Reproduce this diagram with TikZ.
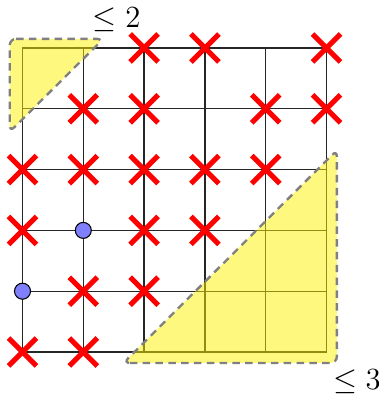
\documentclass[tikz,border=0pt]{standalone}
\begin{document}
\begin{tikzpicture}[x=1cm,y=1cm,
  gridline/.style={line width=0.6pt,black!85},
  region/.style={fill=yellow,fill opacity=0.5,draw=black!50,draw opacity=1,line width=1.1pt,dash pattern=on 3.5pt off 2.5pt,rounded corners=3pt},
  crossmark/.style={red,line width=2.4pt},
  dotmark/.style={circle,draw=black,line width=0.5pt,fill=blue!50,inner sep=0pt,minimum size=7.5pt},
  lbl/.style={font=\Large}]
\useasboundingbox (-0.37,-0.773) rectangle (5.847,5.789);
% grid
\foreach \i in {0,...,5} {
  \draw[gridline] (\i,0) -- (\i,5);
  \draw[gridline] (0,\i) -- (5,\i);
}
% regions
\draw[region] (-0.21,5.15) -- (1.33,5.15) -- (-0.21,3.62) -- cycle;
\draw[region] (1.66,-0.18) -- (5.17,-0.18) -- (5.17,3.32) -- cycle;
% crosses
\foreach \x/\y in {2/5,3/5,5/5, 1/4,2/4,4/4,5/4, 0/3,1/3,2/3,3/3,4/3, 0/2,2/2,3/2, 1/1,2/1, 0/0,1/0} {
  \draw[crossmark] (\x-0.23,\y-0.23) -- (\x+0.23,\y+0.23);
  \draw[crossmark] (\x-0.23,\y+0.23) -- (\x+0.23,\y-0.23);
}
% dots
\node[dotmark] (d1) at (1,2) {};
\node[dotmark] (d2) at (0,1) {};
% labels
\node[lbl] (l2) at (1.55,5.46) {$\leq 2$};
\node[lbl] (l3) at (5.5,-0.49) {$\leq 3$};
\end{tikzpicture}
\end{document}
